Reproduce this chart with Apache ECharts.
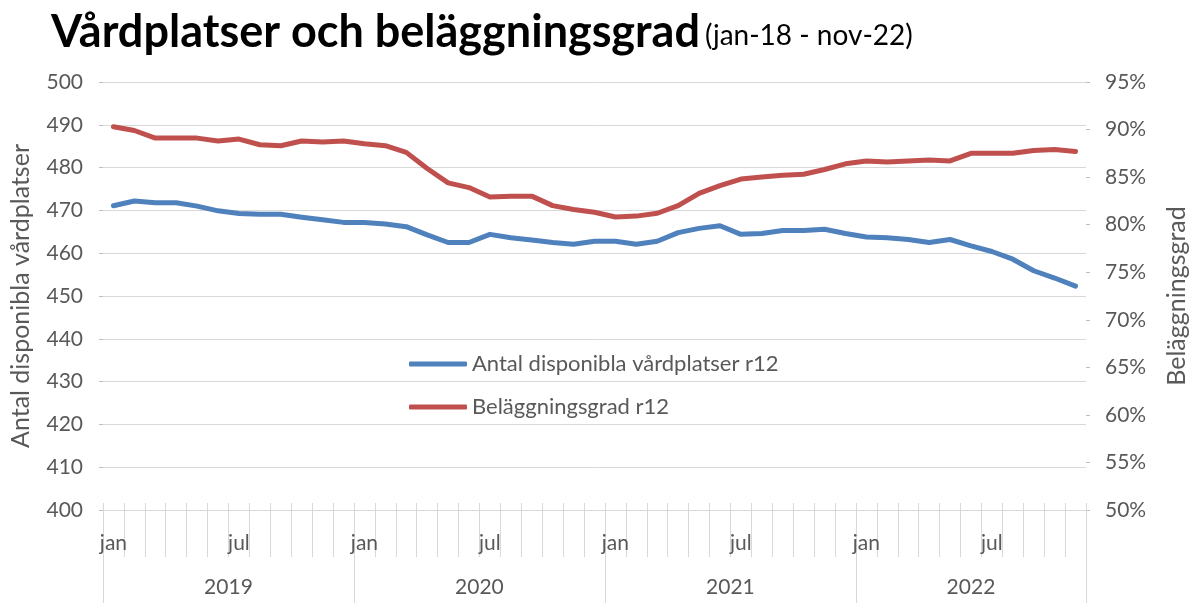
<!DOCTYPE html>
<html>
<head>
<meta charset="utf-8">
<script src="https://cdn.jsdelivr.net/npm/echarts@6/dist/echarts.min.js"></script>
<style>html,body{margin:0;padding:0;background:#fff}#c{width:1197px;height:603px}</style>
</head>
<body>
<div id="c"></div>
<script>
const months = ['2019-01','2019-02','2019-03','2019-04','2019-05','2019-06','2019-07','2019-08','2019-09','2019-10','2019-11','2019-12',
'2020-01','2020-02','2020-03','2020-04','2020-05','2020-06','2020-07','2020-08','2020-09','2020-10','2020-11','2020-12',
'2021-01','2021-02','2021-03','2021-04','2021-05','2021-06','2021-07','2021-08','2021-09','2021-10','2021-11','2021-12',
'2022-01','2022-02','2022-03','2022-04','2022-05','2022-06','2022-07','2022-08','2022-09','2022-10','2022-11'];
const monthTickLabels = {'01':'jan','07':'jul'};
const yearLabels = {'2019-07':'2019','2020-07':'2020','2021-07':'2021','2022-06':'2022'};
const vardplatser = [471.1,472.2,471.8,471.8,471.0,469.9,469.3,469.1,469.1,468.4,467.8,467.2,
467.2,466.8,466.2,464.3,462.5,462.5,464.4,463.6,463.1,462.5,462.1,462.8,
462.8,462.1,462.8,464.8,465.8,466.4,464.4,464.6,465.3,465.3,465.6,464.6,
463.8,463.6,463.2,462.5,463.2,461.7,460.4,458.6,455.9,454.2,452.3];
const belaggning = [90.3,89.9,89.1,89.1,89.1,88.8,89.0,88.4,88.3,88.8,88.7,88.8,
88.5,88.3,87.6,85.9,84.4,83.9,82.9,83.0,83.0,82.0,81.6,81.3,
80.8,80.9,81.2,82.0,83.3,84.1,84.8,85.0,85.2,85.3,85.8,86.4,
86.7,86.6,86.7,86.8,86.7,87.5,87.5,87.5,87.8,87.9,87.7];
const seriesNames = ['Antal disponibla vårdplatser r12','Beläggningsgrad r12'];

const FONT = 'Lato';
const TXT = '#595959';
const chart = echarts.init(document.getElementById('c'), null, {renderer:'canvas'});
chart.setOption({
  animation:false,
  title:{
    left:46, top:5,
    text:'{a|Vårdplatser och beläggningsgrad} {b|(jan-18 - nov-22)}',
    textStyle:{fontWeight:'normal',rich:{
      a:{fontFamily:FONT,fontWeight:'bold',fontSize:45,color:'#000'},
      b:{fontFamily:FONT,fontWeight:'normal',fontSize:28,color:'#000',padding:[6,0,0,0]}
    }}
  },
  legend:{
    orient:'vertical', left:404, top:348, itemWidth:58, itemHeight:5, itemGap:21,
    icon:'roundRect',
    textStyle:{fontFamily:FONT,fontSize:22,color:TXT},
    data:seriesNames
  },
  grid:{left:103,right:110,top:82,bottom:93},
  xAxis:[{
    type:'category', data:months, boundaryGap:true,
    axisLine:{show:true,lineStyle:{color:'#D9D9D9',width:1}},
    axisTick:{show:true,interval:0,length:47,lineStyle:{color:'#D9D9D9'}},
    axisLabel:{interval:0,margin:23,fontFamily:FONT,fontSize:21,color:TXT,
      formatter:v=>monthTickLabels[v.slice(5)]||''}
  },{
    type:'category', data:months, boundaryGap:true, position:'bottom',
    axisLine:{show:false},
    axisTick:{show:true,interval:(i)=>i%12===0,length:93,lineStyle:{color:'#D9D9D9'}},
    axisLabel:{interval:0,margin:67,fontFamily:FONT,fontSize:21,color:TXT,
      formatter:v=>{const y=yearLabels[v]; if(!y) return ''; return v.slice(5)==='07'?'{s|'+y+'}':'{n|'+y+'}';},
      rich:{s:{fontFamily:FONT,fontSize:21,color:TXT,padding:[0,21,0,0]},n:{fontFamily:FONT,fontSize:21,color:TXT}}}
  },{
    type:'category', data:months, boundaryGap:true, position:'bottom',
    axisLine:{show:false},
    axisTick:{show:true,inside:true,interval:0,length:7,lineStyle:{color:'#D9D9D9'}},
    axisLabel:{show:false}
  }],
  yAxis:[{
    type:'value', min:400, max:500, interval:10,
    name:'Antal disponibla vårdplatser', nameLocation:'middle', nameRotate:90, nameGap:70,
    nameTextStyle:{fontFamily:FONT,fontSize:25,color:TXT},
    axisLine:{show:false},
    axisTick:{show:true,length:4,lineStyle:{color:'#BFBFBF'}},
    axisLabel:{fontFamily:FONT,fontSize:21,color:TXT,margin:20},
    splitLine:{show:true,lineStyle:{color:'#D9D9D9',width:1}}
  },{
    type:'value', min:50, max:95, interval:5, position:'right',
    name:'Beläggningsgrad', nameLocation:'middle', nameRotate:90, nameGap:78,
    nameTextStyle:{fontFamily:FONT,fontSize:25,color:TXT},
    axisLine:{show:false},
    axisTick:{show:true,length:4,lineStyle:{color:'#BFBFBF'}},
    axisLabel:{fontFamily:FONT,fontSize:21,color:TXT,margin:19,formatter:'{value}%'},
    splitLine:{show:false}
  }],
  series:[{
    name:seriesNames[0], type:'line', yAxisIndex:0, data:vardplatser,
    symbol:'none', smooth:false,
    lineStyle:{color:'#4F81BD',width:5,cap:'round',join:'round'},
    itemStyle:{color:'#4F81BD'}
  },{
    name:seriesNames[1], type:'line', yAxisIndex:1, data:belaggning,
    symbol:'none', smooth:false,
    lineStyle:{color:'#C0504D',width:5,cap:'round',join:'round'},
    itemStyle:{color:'#C0504D'}
  }]
});
</script>
</body>
</html>
